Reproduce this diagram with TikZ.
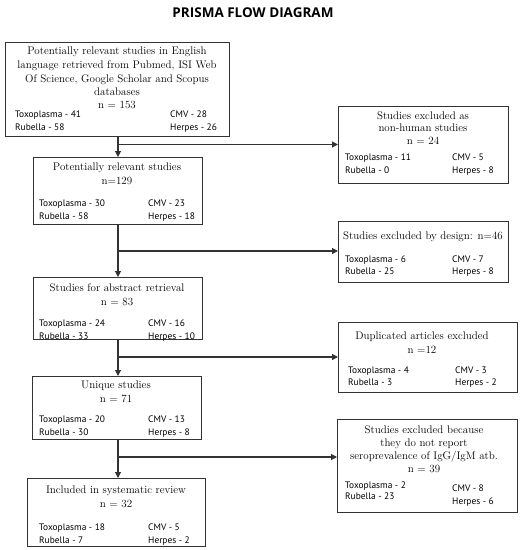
\documentclass[tikz,border=0pt]{standalone}
\usepackage{fontspec}
\newfontfamily\labfont{PT Sans}
\newfontfamily\titfont{Open Sans}
\usetikzlibrary{arrows.meta}
\definecolor{linec}{HTML}{333333}
\begin{document}
\begin{tikzpicture}[x=1pt,y=-1pt,
  box/.style={draw=linec, line width=1.1pt, inner sep=0pt, anchor=north west},
  st/.style={font=\fontsize{11}{14}\selectfont, align=center, inner sep=0pt, anchor=base},
  lab/.style={font=\labfont\fontsize{9.4}{10}\selectfont, inner sep=0pt, anchor=base west},
  conn/.style={draw=linec, line width=1.1pt},
  arr/.style={conn, -{Triangle[length=6pt,width=6pt]}}]
\useasboundingbox (0,0) rectangle (525,550);
\node[font=\titfont\bfseries\fontsize{13.5}{15}\selectfont, anchor=base] (title) at (253,17) {PRISMA FLOW DIAGRAM};
% boxes
\node[box, minimum width=224pt, minimum height=94pt] (b1) at (5,42) {};
\node[box, minimum width=169pt, minimum height=67pt] (b2) at (33,157) {};
\node[box, minimum width=169pt, minimum height=62pt] (b3) at (33,277) {};
\node[box, minimum width=169pt, minimum height=63pt] (b4) at (32,376) {};
\node[box, minimum width=178pt, minimum height=68pt] (b5) at (27,478) {};
\node[box, minimum width=170pt, minimum height=77pt] (e1) at (338,106) {};
\node[box, minimum width=170pt, minimum height=61pt] (e2) at (338,221) {};
\node[box, minimum width=179pt, minimum height=70pt] (e3) at (338,322) {};
\node[box, minimum width=180pt, minimum height=93pt] (e4) at (337,419) {};
% box 1 text
\node[st] (t1a) at (117,54) {Potentially relevant studies in English};
\node[st] (t1b) at (117,68) {language retrieved from Pubmed, ISI Web};
\node[st] (t1c) at (117,82) {Of Science, Google Scholar and Scopus};
\node[st] (t1d) at (117,95) {databases};
\node[st] (t1e) at (117,108) {n = 153};
\node[lab] (l1a) at (15,117) {Toxoplasma - 41};
\node[lab] (l1b) at (15,130) {Rubella - 58};
\node[lab] (l1c) at (170,117) {CMV - 28};
\node[lab] (l1d) at (170,130) {Herpes - 26};
% box 2
\node[st] (t2a) at (117,170) {Potentially relevant studies};
\node[st] (t2b) at (117,184) {n=129};
\node[lab] (l2a) at (39,206) {Toxoplasma - 30};
\node[lab] (l2b) at (39,219) {Rubella - 58};
\node[lab] (l2c) at (148,206) {CMV - 23};
\node[lab] (l2d) at (148,219) {Herpes - 18};
% box 3
\node[st] (t3a) at (117,291) {Studies for abstract retrieval};
\node[st] (t3b) at (117,305) {n = 83};
\node[lab] (l3a) at (39,326) {Toxoplasma - 24};
\node[lab] (l3b) at (39,339) {Rubella - 33};
\node[lab] (l3c) at (148,326) {CMV - 16};
\node[lab] (l3d) at (148,339) {Herpes - 10};
% box 4
\node[st] (t4a) at (116,388) {Unique studies};
\node[st] (t4b) at (116,402) {n = 71};
\node[lab] (l4a) at (39,422) {Toxoplasma - 20};
\node[lab] (l4b) at (39,435) {Rubella - 30};
\node[lab] (l4c) at (148,422) {CMV - 13};
\node[lab] (l4d) at (148,435) {Herpes - 8};
% box 5
\node[st] (t5a) at (116,493) {Included in systematic review};
\node[st] (t5b) at (116,507) {n = 32};
\node[lab] (l5a) at (39,530) {Toxoplasma - 18};
\node[lab] (l5b) at (39,543) {Rubella - 7};
\node[lab] (l5c) at (148,530) {CMV - 5};
\node[lab] (l5d) at (148,543) {Herpes - 2};
% e1
\node[st] (s1a) at (423,119) {Studies excluded as};
\node[st] (s1b) at (423,131) {non-human studies};
\node[st] (s1c) at (423,144) {n = 24};
\node[lab] (m1a) at (345,160) {Toxoplasma - 11};
\node[lab] (m1b) at (345,173) {Rubella - 0};
\node[lab] (m1c) at (452,160) {CMV - 5};
\node[lab] (m1d) at (452,173) {Herpes - 8};
% e2
\node[st] (s2a) at (423,239) {Studies excluded by design: n=46};
\node[lab] (m2a) at (345,262) {Toxoplasma - 6};
\node[lab] (m2b) at (345,274) {Rubella - 25};
\node[lab] (m2c) at (452,262) {CMV - 7};
\node[lab] (m2d) at (452,274) {Herpes - 8};
% e3
\node[st] (s3a) at (422,339) {Duplicated articles excluded};
\node[st] (s3b) at (422,353) {n =12};
\node[lab] (m3a) at (348,373) {Toxoplasma - 4};
\node[lab] (m3b) at (348,385) {Rubella - 3};
\node[lab] (m3c) at (455,373) {CMV - 3};
\node[lab] (m3d) at (455,385) {Herpes - 2};
% e4
\node[st] (s4a) at (424,433) {Studies excluded because};
\node[st] (s4b) at (424,446) {they do not report};
\node[st] (s4c) at (424,459) {seroprevalence of IgG/IgM atb.};
\node[st] (s4d) at (424,472) {n = 39};
\node[lab] (m4a) at (345,488) {Toxoplasma - 2};
\node[lab] (m4b) at (345,499) {Rubella - 23};
\node[lab] (m4c) at (452,491) {CMV - 8};
\node[lab] (m4d) at (452,504) {Herpes - 6};
% connectors
\coordinate (j1) at (118,144.5);
\coordinate (j2) at (118,251);
\coordinate (j3) at (118,357);
\coordinate (j4) at (118,457);
\draw[arr] (b1.south -| j1) -- (b2.north -| j1);
\draw[arr] (j1) -- (e1.west |- j1);
\draw[arr] (b2.south -| j2) -- (b3.north -| j2);
\draw[arr] (j2) -- (e2.west |- j2);
\draw[arr] (b3.south -| j3) -- (b4.north -| j3);
\draw[arr] (j3) -- (e3.west |- j3);
\draw[arr] (b4.south -| j4) -- (b5.north -| j4);
\draw[arr] (j4) -- (e4.west |- j4);
\end{tikzpicture}
\end{document}
